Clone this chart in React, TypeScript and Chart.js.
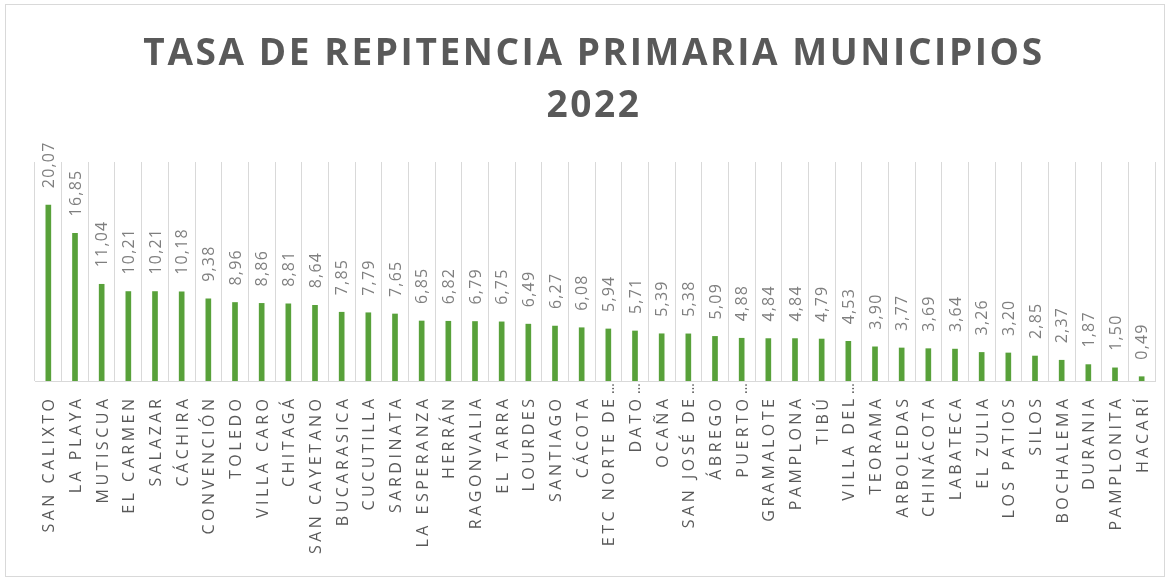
import React, { useEffect, useRef } from "react";
import { Chart, registerables } from "chart.js";

Chart.register(...registerables);

const titleLines = ["TASA DE REPITENCIA PRIMARIA MUNICIPIOS", "2022"];

const categories = [
  "SAN CALIXTO", "LA PLAYA", "MUTISCUA", "EL CARMEN", "SALAZAR", "CÁCHIRA",
  "CONVENCIÓN", "TOLEDO", "VILLA CARO", "CHITAGÁ", "SAN CAYETANO", "BUCARASICA",
  "CUCUTILLA", "SARDINATA", "LA ESPERANZA", "HERRÁN", "RAGONVALIA", "EL TARRA",
  "LOURDES", "SANTIAGO", "CÁCOTA", "ETC NORTE DE…", "DATO…", "OCAÑA",
  "SAN JOSÉ DE…", "ÁBREGO", "PUERTO…", "GRAMALOTE", "PAMPLONA", "TIBÚ",
  "VILLA DEL…", "TEORAMA", "ARBOLEDAS", "CHINÁCOTA", "LABATECA", "EL ZULIA",
  "LOS PATIOS", "SILOS", "BOCHALEMA", "DURANIA", "PAMPLONITA", "HACARÍ",
];

const values = [
  20.07, 16.85, 11.04, 10.21, 10.21, 10.18,
  9.38, 8.96, 8.86, 8.81, 8.64, 7.85,
  7.79, 7.65, 6.85, 6.82, 6.79, 6.75,
  6.49, 6.27, 6.08, 5.94, 5.71, 5.39,
  5.38, 5.09, 4.88, 4.84, 4.84, 4.79,
  4.53, 3.90, 3.77, 3.69, 3.64, 3.26,
  3.20, 2.85, 2.37, 1.87, 1.50, 0.49,
];

const yMin = 0;
const yMax = 25;

const fmt = (v: number) => v.toFixed(2).replace(".", ",");

const textPlugin = {
  id: "textPlugin",
  afterDraw(chart: any) {
    const ctx: CanvasRenderingContext2D = chart.ctx;
    const area = chart.chartArea;
    const xScale = chart.scales.x;
    const meta = chart.getDatasetMeta(0);

    // Title
    ctx.save();
    ctx.fillStyle = "#595959";
    ctx.font = "bold 37px 'Open Sans'";
    (ctx as any).letterSpacing = "2.6px";
    ctx.textAlign = "center";
    ctx.textBaseline = "alphabetic";
    const cx = (area.left + area.right) / 2 - 1;
    ctx.fillText(titleLines[0], cx, 65);
    ctx.fillText(titleLines[1], cx, 117);
    ctx.restore();

    // Data labels
    ctx.save();
    ctx.fillStyle = "#7F7F7F";
    ctx.font = "16px 'Open Sans'";
    (ctx as any).letterSpacing = "1.2px";
    ctx.textAlign = "left";
    ctx.textBaseline = "middle";
    meta.data.forEach((el: any, i: number) => {
      ctx.save();
      ctx.translate(el.x + 1, el.y - 17);
      ctx.rotate(-Math.PI / 2);
      ctx.fillText(fmt(values[i]), 0, 0);
      ctx.restore();
    });
    ctx.restore();

    // Category labels
    ctx.save();
    ctx.fillStyle = "#595959";
    ctx.font = "16px 'Open Sans'";
    ctx.textBaseline = "middle";
    const spacing = 3.5;
    categories.forEach((lab, i) => {
      const px = xScale.getPixelForValue(i) + 1.5;
      const trunc = lab.endsWith("…");
      const text = trunc ? lab.slice(0, -1) : lab;
      ctx.save();
      ctx.translate(px, area.bottom + 18 - spacing);
      ctx.rotate(-Math.PI / 2);
      (ctx as any).letterSpacing = spacing + "px";
      ctx.textAlign = "right";
      ctx.fillText(text, 0, 0);
      if (trunc) {
        (ctx as any).letterSpacing = "0px";
        ctx.textAlign = "left";
        ctx.font = "14px 'Open Sans'";
        ctx.fillText("…", 1.5, 0);
      }
      ctx.restore();
    });
    ctx.restore();
  },
};

export default function App() {
  const ref = useRef<HTMLCanvasElement>(null);

  useEffect(() => {
    if (!ref.current) return;
    const chart = new Chart(ref.current, {
      type: "bar",
      data: {
        labels: categories,
        datasets: [
          {
            data: values,
            backgroundColor: "#58A13A",
            borderWidth: 0,
            barThickness: 5,
          },
        ],
      },
      options: {
        animation: false,
        responsive: false,
        maintainAspectRatio: false,
        layout: { padding: { left: 35, right: 17, top: 162, bottom: 201 } },
        plugins: {
          legend: { display: false },
          title: { display: false },
          tooltip: { enabled: false },
        },
        scales: {
          x: {
            grid: {
              display: true,
              color: "#D9D9D9",
              lineWidth: 1,
              drawTicks: false,
              offset: true,
            },
            border: { display: true, color: "#D9D9D9", width: 1 },
            ticks: { display: false },
          },
          y: {
            display: false,
            min: yMin,
            max: yMax,
          },
        },
      },
      plugins: [textPlugin],
    });
    return () => chart.destroy();
  }, []);

  return (
    <div
      style={{
        position: "absolute",
        left: 0,
        top: 0,
        width: 1172,
        height: 582,
        background: "#FFFFFF",
      }}
    >
      <div
        style={{
          position: "absolute",
          left: 5,
          top: 4,
          width: 1160,
          height: 573,
          border: "1px solid #D9D9D9",
          boxSizing: "border-box",
        }}
      />
      <canvas
        ref={ref}
        width={1172}
        height={582}
        style={{ position: "absolute", left: 0, top: 0, width: 1172, height: 582 }}
      />
    </div>
  );
}
